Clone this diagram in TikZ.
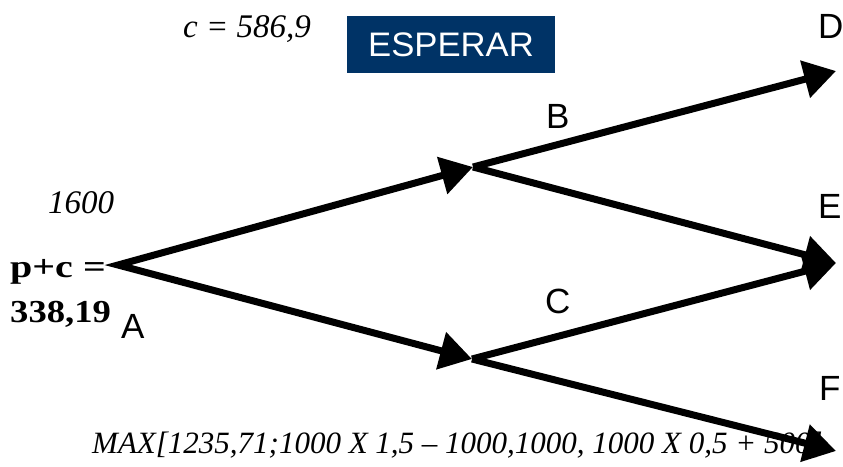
\documentclass[tikz,border=0pt]{standalone}
\usepackage{fontspec}
\setmainfont{Liberation Serif}
\newfontfamily\lblfont{Liberation Sans}
\usetikzlibrary{arrows.meta}
\definecolor{navy}{RGB}{0,51,102}
\begin{document}
\begin{tikzpicture}[x=1pt,y=-1pt,
  tip/.tip={Triangle[length=32pt,width=37pt]},
  branch/.style={line width=7pt,-tip},
  lbl/.style={inner sep=0pt,anchor=base west,font=\lblfont\fontsize{35}{40}\selectfont},
  ser/.style={inner sep=0pt,anchor=base west,font=\itshape\fontsize{33}{38}\selectfont},
  bld/.style={inner sep=0pt,anchor=base west,font=\bfseries\fontsize{32}{38}\selectfont}]
\useasboundingbox (0,0) rectangle (843,466);
% points
\coordinate (A) at (118,265);
\coordinate (B) at (473,167);
\coordinate (C) at (472,359);
\coordinate (D) at (836,71);
\coordinate (E) at (836,263);
\coordinate (F) at (836,451);
% texts
\node[ser] (ctext) at (183,37) {c = 586,9};
\node[fill=navy,minimum width=208pt,minimum height=57pt,inner sep=0pt] (esp) at (451,44.5) {};
\node[inner sep=0pt,text=white,font=\lblfont\fontsize{34}{40}\selectfont] (esptext) at (esp.center) {\scalebox{1.02}[1]{ESPERAR}};
\node[ser] (t1600) at (48,213) {1600};
\node[bld] (pc) at (10,277) {\scalebox{1.25}[1]{p+c =}};
\node[bld] (val) at (10,322) {\scalebox{1.145}[1]{338,19}};
\node[lbl] (la) at (121,338) {A};
\node[lbl] (lb) at (546,128) {B};
\node[lbl] (lc) at (545,313) {C};
\node[lbl] (ld) at (818,38) {D};
\node[lbl] (le) at (818,218) {E};
\node[lbl] (lf) at (819,400) {F};
\node[ser,font=\itshape\fontsize{31}{36}\selectfont] (max) at (92,453) {MAX[1235,71;1000 X 1,5 – 1000,1000, 1000 X 0,5 + 500]};
% branches
\draw[line width=7pt,tip-tip,line join=miter] (B) -- (A) -- (C);
\draw[branch] (B) -- (D);
\draw[branch] (B) -- (E);
\draw[branch] (C) -- (E);
\draw[branch] (C) -- (F);
\end{tikzpicture}
\end{document}
